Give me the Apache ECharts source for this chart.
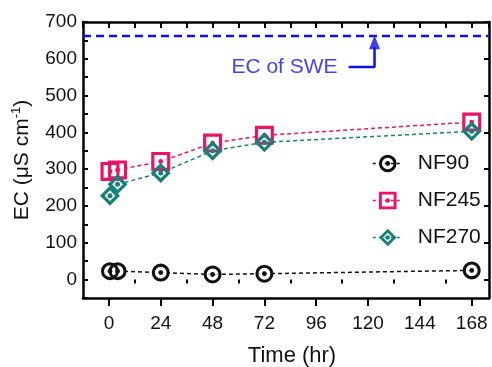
<!DOCTYPE html>
<html>
<head>
<meta charset="utf-8">
<script src="https://cdn.jsdelivr.net/npm/echarts@6/dist/echarts.min.js"></script>
<style>
  html, body { margin: 0; padding: 0; background: #fff; }
  #chart { width: 492px; height: 367px; }
</style>
</head>
<body>
<div id="chart"></div>
<script>
// data
let timeHr  = [0.5, 4, 24, 48, 72, 168];
let nf90    = [23, 23, 19, 14, 16, 25];
let nf245   = [294, 298, 321, 371, 392, 428];
let nf270   = [228, 259, 290, 350, 373, 403];
let timeNames = ['NF90', 'NF245', 'NF270'];
let sweEC   = 662;
let sweSpan = [-12, 176];
let arrowPath = [[111, 578], [123, 578], [123, 632]];
let arrowTip  = [123, 645];
let xMajor = [0, 24, 48, 72, 96, 120, 144, 168];
let xMinor = [12, 36, 60, 84, 108, 132, 156];
let yMajor = [0, 100, 200, 300, 400, 500, 600, 700];

const FONT = "'Liberation Sans', Arial, sans-serif";
const PINK = '#ee1166';
const TEAL = '#16807a';
const BLUE = '#1010ee';

// ring / square / diamond with a dot (hole made by reverse winding)
const SYM_CIRCLE = 'path://M0,10 A10,10 0 1,0 20,10 A10,10 0 1,0 0,10 Z M3.4,10 A6.6,6.6 0 1,1 16.6,10 A6.6,6.6 0 1,1 3.4,10 Z M7.3,10 A2.7,2.7 0 1,0 12.7,10 A2.7,2.7 0 1,0 7.3,10 Z';
const SYM_SQUARE = 'path://M0,0 L0,20 L20,20 L20,0 Z M3.3,3.3 L16.7,3.3 L16.7,16.7 L3.3,16.7 Z M7.5,10 A2.5,2.5 0 1,0 12.5,10 A2.5,2.5 0 1,0 7.5,10 Z';
const SYM_DIAMOND = 'path://M10,0 L0,10 L10,20 L20,10 Z M10,4.6 L15.4,10 L10,15.4 L4.6,10 Z M7.5,10 A2.5,2.5 0 1,0 12.5,10 A2.5,2.5 0 1,0 7.5,10 Z';

function pairs(xs, ys){
    let out = [];
    for (let i = 0; i < xs.length; i++){
        out.push([xs[i], ys[i]]);
    }
    return out;
}

function makeSet(name, ys, color, sym, bgSym, size){
    let d = pairs(timeHr, ys);
    return [
        { // the dashed line
            name: name + '_line', type: 'line', data: d, z: 2,
            symbol: 'none', silent: true,
            lineStyle: { color: color, width: 1.5, type: [4, 3] }
        },
        { // white under the hollow marker
            name: name + '_bg', type: 'scatter', data: d, z: 3,
            symbol: bgSym, symbolSize: size - 2, silent: true,
            itemStyle: { color: '#fff' }
        },
        {
            name: name, type: 'line', data: d, z: 4,
            symbol: sym, symbolSize: size, showSymbol: true,
            itemStyle: { color: color, borderWidth: 0 },
            lineStyle: { color: color, width: 1.5, type: [4, 3], opacity: 0 }
        }
    ];
}

let series = [];
series = series.concat(makeSet('NF90', nf90, '#111', SYM_CIRCLE, 'circle', 18));
series = series.concat(makeSet('NF245', nf245, PINK, SYM_SQUARE, 'rect', 19));
series = series.concat(makeSet('NF270', nf270, TEAL, SYM_DIAMOND, 'diamond', 20));

series.push({
    name: 'swe', type: 'line', z: 2, symbol: 'none', silent: true,
    data: [[sweSpan[0], sweEC], [sweSpan[1], sweEC]],
    lineStyle: { color: BLUE, width: 2.5, type: [8, 5] }
});
series.push({
    name: 'arrow', type: 'line', z: 2, symbol: 'none', silent: true,
    data: arrowPath,
    lineStyle: { color: BLUE, width: 2.5 }
});
series.push({
    name: 'arrowTip', type: 'scatter', z: 2, silent: true,
    symbol: 'triangle', symbolSize: [11, 14],
    data: [arrowTip],
    itemStyle: { color: BLUE }
});
series.push({
    name: 'sweLabel', type: 'scatter', z: 2, silent: true,
    symbolSize: 0,
    data: [arrowPath[0]],
    label: {
        show: true, position: 'left', distance: 11,
        formatter: 'EC of SWE', color: BLUE,
        fontFamily: FONT, fontSize: 21
    }
});

const axisLine = { show: true, onZero: false, lineStyle: { color: '#000', width: 2.5 } };

let option = {
    animation: false,
    backgroundColor: '#fff',
    grid: { left: 83, top: 22, right: 3, bottom: 69, containLabel: false, outerBoundsMode: 'none' },
    legend: {
        orient: 'vertical',
        left: 367, top: 148,
        itemWidth: 30, itemHeight: 22, itemGap: 16,
        data: timeNames,
        lineStyle: { opacity: 1, width: 1.5, type: [3, 3] },
        textStyle: { fontFamily: FONT, fontSize: 21, color: '#111', padding: [0, 0, 0, 10] }
    },
    xAxis: [
        {
            type: 'value', position: 'bottom', min: -12, max: 176,
            name: 'Time (hr)', nameLocation: 'middle', nameGap: 47,
            nameTextStyle: { fontFamily: FONT, fontSize: 22, color: '#111', padding: [0, 0, 0, 12] },
            axisLine: axisLine,
            splitLine: { show: false },
            axisTick: { show: true, inside: false, length: 8, lineStyle: { width: 2, color: '#000' }, customValues: xMajor },
            axisLabel: { fontFamily: FONT, fontSize: 19, color: '#111', margin: 16, customValues: xMajor }
        },
        {
            type: 'value', position: 'bottom', min: -12, max: 176,
            axisLine: { show: false },
            splitLine: { show: false },
            axisTick: { show: true, inside: false, length: 4, lineStyle: { width: 2, color: '#000' }, customValues: xMinor },
            axisLabel: { show: false }
        },
        {
            type: 'value', position: 'top', min: -12, max: 176, interval: 12,
            axisLine: axisLine,
            splitLine: { show: false },
            axisTick: { show: true, inside: true, length: 6, lineStyle: { width: 2, color: '#000' } },
            axisLabel: { show: false }
        }
    ],
    yAxis: [
        {
            type: 'value', position: 'left', min: -50, max: 700, interval: 50,
            name: '{n|EC (μS cm}{s|-1}{n|)}', nameLocation: 'middle', nameGap: 49,
            nameTextStyle: {
                rich: {
                    n: { fontFamily: FONT, fontSize: 21, color: '#111', lineHeight: 24 },
                    s: { fontFamily: FONT, fontSize: 13, color: '#111', verticalAlign: 'top', lineHeight: 24 }
                }
            },
            axisLine: axisLine,
            splitLine: { show: false },
            axisTick: { show: true, inside: true, length: 5, lineStyle: { width: 2, color: '#000' } },
            axisLabel: { fontFamily: FONT, fontSize: 19, color: '#111', margin: 6, customValues: yMajor }
        },
        {
            type: 'value', position: 'right', min: -50, max: 700,
            axisLine: axisLine,
            splitLine: { show: false },
            axisTick: { show: true, inside: true, length: 5, lineStyle: { width: 2, color: '#000' }, customValues: yMajor },
            axisLabel: { show: false }
        }
    ],
    series: series
};

let myChart = echarts.init(document.getElementById('chart'));
myChart.setOption(option);
</script>
</body>
</html>
